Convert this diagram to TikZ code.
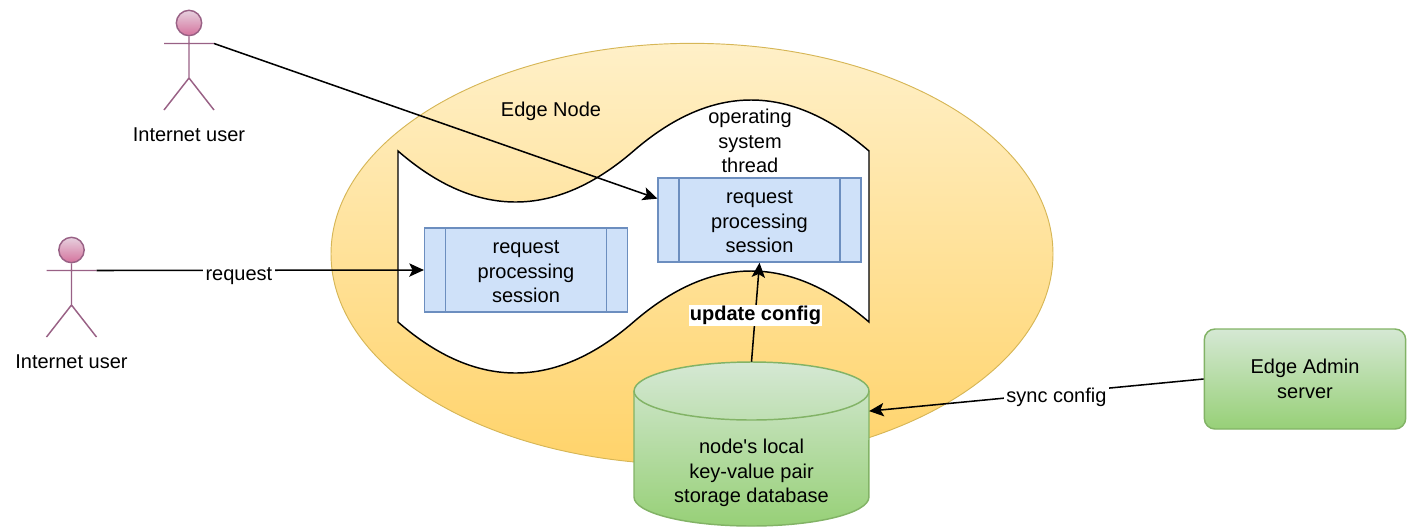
\documentclass[tikz,border=0pt]{standalone}
\usepackage{fontspec}
\setmainfont{Liberation Sans}
\usetikzlibrary{calc,shapes.geometric,arrows.meta}

\definecolor{nodeTop}{HTML}{FFF0C8}
\definecolor{nodeMid}{HTML}{FFE0A2}
\definecolor{nodeBot}{HTML}{FFD36A}
\definecolor{nodeEdge}{HTML}{D6B656}
\definecolor{procFill}{HTML}{CFE1F9}
\definecolor{procEdge}{HTML}{6C8EBF}
\definecolor{dbTop}{HTML}{D5E8D4}
\definecolor{dbBot}{HTML}{97D077}
\definecolor{dbEdge}{HTML}{82B366}
\definecolor{userTop}{HTML}{E6D0DE}
\definecolor{userBot}{HTML}{D5739D}
\definecolor{userEdge}{HTML}{996185}

\begin{document}
\begin{tikzpicture}[x=0.75pt,y=-0.75pt]
    % `procbox' is used for the two sessions, with its side bars.
    % `link' is used for all connectors, `linklabel' for the text on them.
    \tikzstyle{every node} = [font=\fontsize{15}{18.4}\selectfont,align=center]
    \tikzstyle{procbox} = [draw=procEdge,fill=procFill,line width=1.1pt,minimum width=152pt,minimum height=63pt,inner sep=0pt,
      path picture={
\draw[procEdge,line width=1.1pt]([xshift=15.75pt]path picture bounding box.north west) -- ([xshift=15.75pt]path picture bounding box.south west) ([xshift=-15.75pt]path picture bounding box.north east) -- ([xshift=-15.75pt]path picture bounding box.south east);
}]
    \tikzstyle{greenbox} = [draw=dbEdge,line width=1.1pt,top color=dbTop,bottom color=dbBot]
    \tikzstyle{userhead} = [draw=userEdge,line width=1.1pt,circle,top color=userTop,bottom color=userBot,minimum size=19pt,inner sep=0pt]
    \tikzstyle{userline} = [userEdge,line width=1.1pt]
    \tikzstyle{link} = [line width=1.15pt,-{Stealth[length=11pt,width=10pt,inset=2.5pt]}]
    \tikzstyle{linklabel} = [fill=white,inner sep=2pt]
    %
    \useasboundingbox (0,0) rectangle (1412,526);

    % Edge node and the thread inside it.
    \node[ellipse,draw=nodeEdge,line width=0.7pt,top color=nodeTop,middle color=nodeMid,bottom color=nodeBot,minimum width=541.5pt,minimum height=316pt,inner sep=0pt] (edgenode) at (692,254) {};
    \node (edgelabel) at (551,111) {Edge Node};
    \draw[line width=1.1pt,fill=white,line join=miter] (398,151) .. controls (476,219) and (555,219) .. (633.5,151)
        .. controls (712,83) and (790,83) .. (869,151) -- (869,322)
        .. controls (790,254) and (712,254) .. (633.5,322)
        .. controls (555,390) and (476,390) .. (398,322) -- cycle;
    \node (thread) at (750,141) {operating\\system\\thread};

    \node[procbox] (procA) at (526,270) {};
    \node[procbox] (procB) at (759.5,220) {};
    \node (procAtext) at (526,272) {request\\processing\\session};
    \node (procBtext) at (759.5,222) {request\\processing\\session};

    % Database, `db' only holds the anchors.
    \draw[greenbox] (634,391) -- (634,497) arc[start angle=180,end angle=360,x radius=88.1pt,y radius=21.75pt]
        -- (869,391) arc[start angle=0,end angle=180,x radius=88.1pt,y radius=21.75pt] -- cycle;
    \draw[dbEdge,line width=1.1pt] (634,391) arc[start angle=180,end angle=360,x radius=88.1pt,y radius=21.75pt];
    \node[minimum width=176pt,minimum height=123pt,inner sep=0pt] (db) at (751.5,444) {};
    \node (dbtext) at (751.5,473) {node\textquotesingle s local\\key-value pair\\storage database};
    \node[greenbox,rounded corners=8pt,minimum width=151pt,minimum height=75pt,inner sep=0pt] (admin) at (1305,379) {Edge Admin\\server};

    % Users.
    \foreach \who/\ux/\uy in {top/189/23,low/71.5/250} {
      \node[userhead] (head\who) at (\ux,\uy) {};
      \coordinate (arm\who) at (\ux+25,\uy+20.5);
      \coordinate (hip\who) at (\ux,\uy+55);
      \draw[userline] (head\who.south) -- (hip\who) -- ++(-25,32) (hip\who) -- ++(25,32)
                      (\ux-25,\uy+20.5) -- (arm\who);
      \node (name\who) at (\ux,\uy+112) {Internet user};
    }

    % Draw lines.
    \draw[link] (armtop) -- ($(procB.north west)!0.25!(procB.south west)$);
    \draw[link] (armlow) -- node[linklabel,pos=0.435,yshift=-4pt] (request) {request} (procA.west);
    \draw[link] (db.north) -- node[linklabel,pos=0.49,inner sep=1pt,yshift=-1.5pt] (update) {\textbf{update config}} (procB.south);
    \draw[link] (admin.west) -- node[linklabel,pos=0.44,yshift=-3.5pt] (sync) {sync config} ($(db.north east)!0.3!(db.south east)$);
\end{tikzpicture}
\end{document}
